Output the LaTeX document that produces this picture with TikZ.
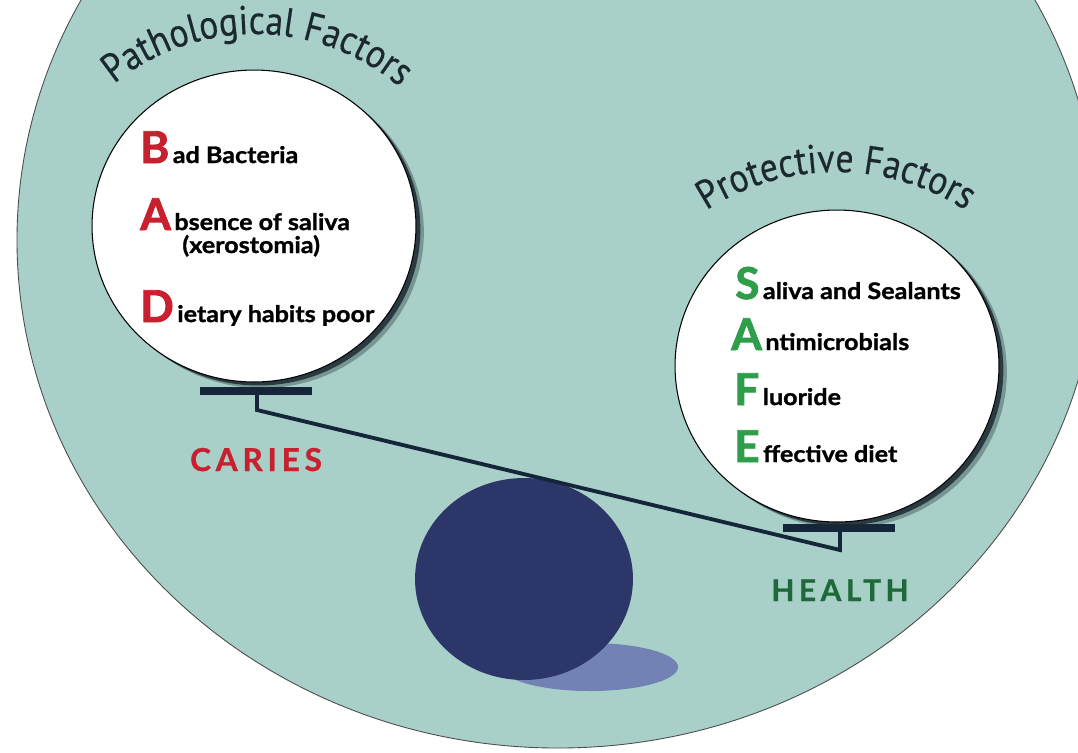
\documentclass[tikz,border=0pt]{standalone}
\usepackage{fontspec}
\setmainfont{Lato}
\newfontfamily\titlefont[FakeStretch=0.88, FakeBold=0.4]{PT Sans}
\newfontfamily\itemfont[BoldFeatures={FakeBold=1.2, FakeStretch=1.1}]{Lato}
\newfontfamily\heavyfont[BoldFeatures={FakeBold=2}]{Lato}
\newfontfamily\spacedfont[LetterSpace=15, BoldFeatures={FakeBold=0.8}]{Lato}
\usetikzlibrary{shapes.geometric,shadows,decorations.text}

\definecolor{seateal}{RGB}{168,208,200}
\definecolor{ballnavy}{RGB}{44,54,104}
\definecolor{ballshade}{RGB}{114,130,180}
\definecolor{levernavy}{RGB}{22,38,58}
\definecolor{titleink}{RGB}{28,40,48}
\definecolor{badred}{RGB}{200,32,46}
\definecolor{safegreen}{RGB}{46,158,74}
\definecolor{healthgreen}{RGB}{30,105,58}
\definecolor{shadowink}{RGB}{28,42,50}

% big coloured first letter of each line
\newcommand{\capletter}[2]{{\color{#1}\heavyfont\fontsize{25}{25}\selectfont\bfseries #2}\kern2pt}

\begin{document}
\begin{tikzpicture}[x=0.02cm, y=-0.02cm,
    whiteball/.style={ellipse, draw=black, line width=0.6pt, fill=white,
        minimum width=6.48cm, minimum height=6.24cm, inner sep=0pt,
        drop shadow={shadow xshift=4.5pt, shadow yshift=-3.5pt, fill=shadowink, opacity=0.35},
        drop shadow={shadow xshift=2.5pt, shadow yshift=-2pt, fill=shadowink, opacity=0.85}},
    itemtext/.style={anchor=base west, inner sep=0pt, font=\itemfont\fontsize{13}{13}\selectfont\bfseries},
    pantext/.style={anchor=base, inner sep=0pt},
    panbar/.style={levernavy, line width=4.5pt},
    lever/.style={levernavy, line width=2.2pt, line join=miter},
    arctitle/.style={decorate, decoration={text along path, text align={fit to path},
        text={|\titlefont\fontsize{23}{23}\selectfont\color{titleink}|#1}}}]

        \clip (0,0) rectangle (1078,752);
        \fill[white] (0,0) rectangle (1078,752);

        % Big disc
        \draw[fill=seateal, draw=black!70, line width=0.5pt] (558,240) ellipse [x radius=541, y radius=508];

        % Fulcrum ball and its shade
        \fill[ballshade] (590,667) ellipse [x radius=88, y radius=24];
        \node[ellipse, fill=ballnavy, minimum width=4.36cm, minimum height=4.04cm, inner sep=0pt] (fulcrum) at (524,579) {};

        % Lever
        \coordinate (lstem) at (257,391);
        \coordinate (lknee) at (257,410);
        \coordinate (rknee) at (840,550);
        \coordinate (rstem) at (840,528);
        \draw[lever] (lstem) -- (lknee) -- (rknee) -- (rstem);

        % Pans
        \coordinate (lbar-w) at (200,391);
        \coordinate (lbar-e) at (312,391);
        \coordinate (rbar-w) at (783,528);
        \coordinate (rbar-e) at (895,528);
        \draw[panbar] (lbar-w) -- (lbar-e);
        \draw[panbar] (rbar-w) -- (rbar-e);

        % Pathological side
        \node[whiteball] (badball) at (254,226) {};
        \path[arctitle={Pathological Factors}] (255,258) ++(-129:224) arc[start angle=-129, end angle=-51, radius=224];
        \node[itemtext] (bline) at (140,163) {\capletter{badred}{B}ad Bacteria};
        \node[itemtext] (aline) at (140,230) {\capletter{badred}{A}bsence of saliva};
        \node[itemtext] (xline) at (182,253) {(xerostomia)};
        \node[itemtext] (dline) at (140,322) {\capletter{badred}{D}ietary habits poor};
        \node[pantext, font=\spacedfont\fontsize{18}{18}\selectfont\bfseries, text=badred] (caries) at (256,471) {CARIES};

        % Protective side
        \node[whiteball] (safeball) at (837,366) {};
        \path[arctitle={Protective Factors}] (836,410) ++(-123:238) arc[start angle=-123, end angle=-57, radius=238];
        \node[itemtext] (sline) at (735,299) {\capletter{safegreen}{S}aliva and Sealants};
        \node[itemtext] (antline) at (731,350) {\capletter{safegreen}{A}ntimicrobials};
        \node[itemtext] (fline) at (734,405) {\capletter{safegreen}{F}luoride};
        \node[itemtext] (eline) at (734,462) {\capletter{safegreen}{E}ffective diet};
        \node[pantext, font=\spacedfont\fontsize{17}{17}\selectfont\bfseries, text=healthgreen] (health) at (840,601) {HEALTH};
    \end{tikzpicture}
\end{document}
